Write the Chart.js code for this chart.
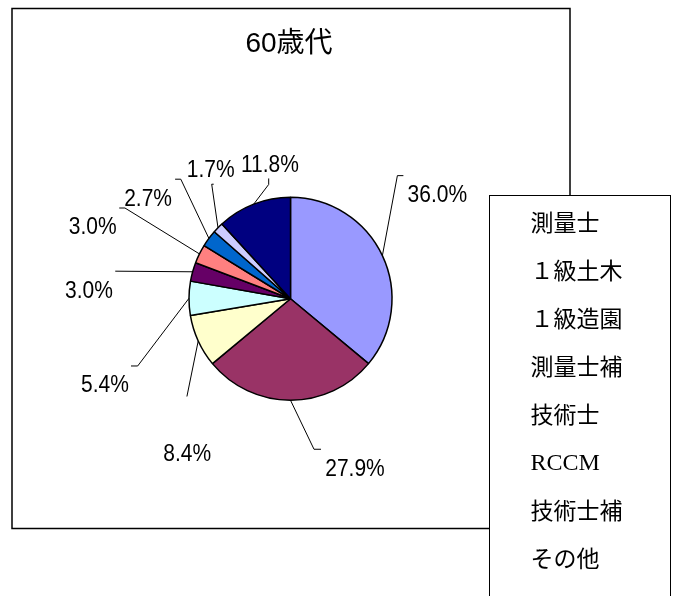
<!DOCTYPE html>
<html>
<head>
<meta charset="utf-8">
<script src="https://cdn.jsdelivr.net/npm/chart.js"></script>
<style>
  body { margin: 0; background: #fff; }
  canvas { display: block; }
</style>
</head>
<body>
<canvas id="pieChart" width="680" height="596"></canvas>
<script>
const chartTitle = "60歳代";
const categories = ["測量士", "１級土木", "１級造園", "測量士補", "技術士", "RCCM", "技術士補", "その他", "資格なし"];
const shares = [36.0, 27.9, 8.4, 5.4, 3.0, 3.0, 2.7, 1.7, 11.8];
const sliceColors = ["#9999FF", "#993366", "#FFFFCC", "#CCFFFF", "#660066", "#FF8080", "#0066CC", "#CCCCFF", "#000080"];

// hand-placed data labels (like moved Excel labels), offsets from each slice's outer midpoint
const leaderBend = [[15, -80], [23.5, 49], [-11.3, 55.5], [-51.3, 67.7], [-77.4, -0.6], [-74.5, -45.9], [-28.1, -59.2], [-6.3, -43.5], [15, -19.7]];
const leaderTail = [[6, 0], [7, 0], [0, 0], [-6.7, 0], [0, 0], [-5.7, 0], [-5.7, 0], [2, 0], [0, -6]];
const labelShift = [[34, 18.3], [34, 18.3], [0.3, 56.1], [-26, 18], [-26.3, 18.3], [-26.6, 18], [-27, 18.4], [-3, -15], [1.2, -14.3]];

const excelLook = {
    id: "excelLook",
    beforeDraw(chart) {
        const c = chart.ctx;
        c.save();
        c.fillStyle = "#fff";
        c.fillRect(0, 0, chart.width, chart.height);
        c.strokeStyle = "#000";
        c.lineWidth = 1.5;
        c.strokeRect(12, 8.5, 558, 520);
        c.fillStyle = "#000";
        c.font = '28px "Liberation Sans", "Noto Sans CJK JP"';
        c.textAlign = "center";
        c.fillText(chartTitle, 289, 52);
        c.restore();
    },
    afterDraw(chart) {
        const c = chart.ctx;
        const arcs = chart.getDatasetMeta(0).data;
        c.save();
        c.strokeStyle = "#000";
        c.fillStyle = "#000";
        c.lineWidth = 1;
        c.textAlign = "center";
        c.font = '21px "Liberation Sans", Arial, sans-serif';

        arcs.forEach((arc, i) => {
            const mid = (arc.startAngle + arc.endAngle) / 2;
            const x0 = arc.x + Math.cos(mid) * arc.outerRadius;
            const y0 = arc.y + Math.sin(mid) * arc.outerRadius;
            const x1 = x0 + leaderBend[i][0];
            const y1 = y0 + leaderBend[i][1];
            const x2 = x1 + leaderTail[i][0];
            const y2 = y1 + leaderTail[i][1];
            c.beginPath();
            c.moveTo(x0, y0);
            c.lineTo(x1, y1);
            c.lineTo(x2, y2);
            c.stroke();

            c.save();
            c.translate(x2 + labelShift[i][0], y2 + labelShift[i][1]);
            c.scale(1, 1.1);
            c.fillText(shares[i].toFixed(1) + "%", 0, 7.5);
            c.restore();
        });

        // legend box (no swatches, runs off the bottom of the picture)
        c.fillStyle = "#fff";
        c.fillRect(489.5, 195.5, 181, 450);
        c.strokeRect(489.5, 195.5, 181, 450);
        c.fillStyle = "#000";
        c.textAlign = "left";
        categories.forEach((name, i) => {
            const cy = 222.5 + i * 47.9;
            if (cy + 12 > chart.height) return; // row falls below the edge
            if (/^[A-Za-z]+$/.test(name)) {
                c.font = '24px "Liberation Serif", serif';
                c.fillText(name, 530.5, cy + 7.9);
            } else {
                c.font = '23px "Noto Sans CJK JP", sans-serif';
                c.fillText(name, 530.5, cy + 8.7);
            }
        });
        c.restore();
    },
};

new Chart(document.getElementById("pieChart"), {
    type: "pie",
    data: {
        labels: categories,
        datasets: [
            {
                data: shares,
                backgroundColor: sliceColors,
                borderColor: "#000",
                borderWidth: 1.5,
            },
        ],
    },
    options: {
        responsive: false,
        animation: false,
        devicePixelRatio: 1,
        layout: { padding: { left: 188, top: 196.5, right: 287, bottom: 195 } },
        plugins: {
            legend: { display: false },
            title: { display: false },
            tooltip: { enabled: false },
        },
    },
    plugins: [excelLook],
});
</script>
</body>
</html>
